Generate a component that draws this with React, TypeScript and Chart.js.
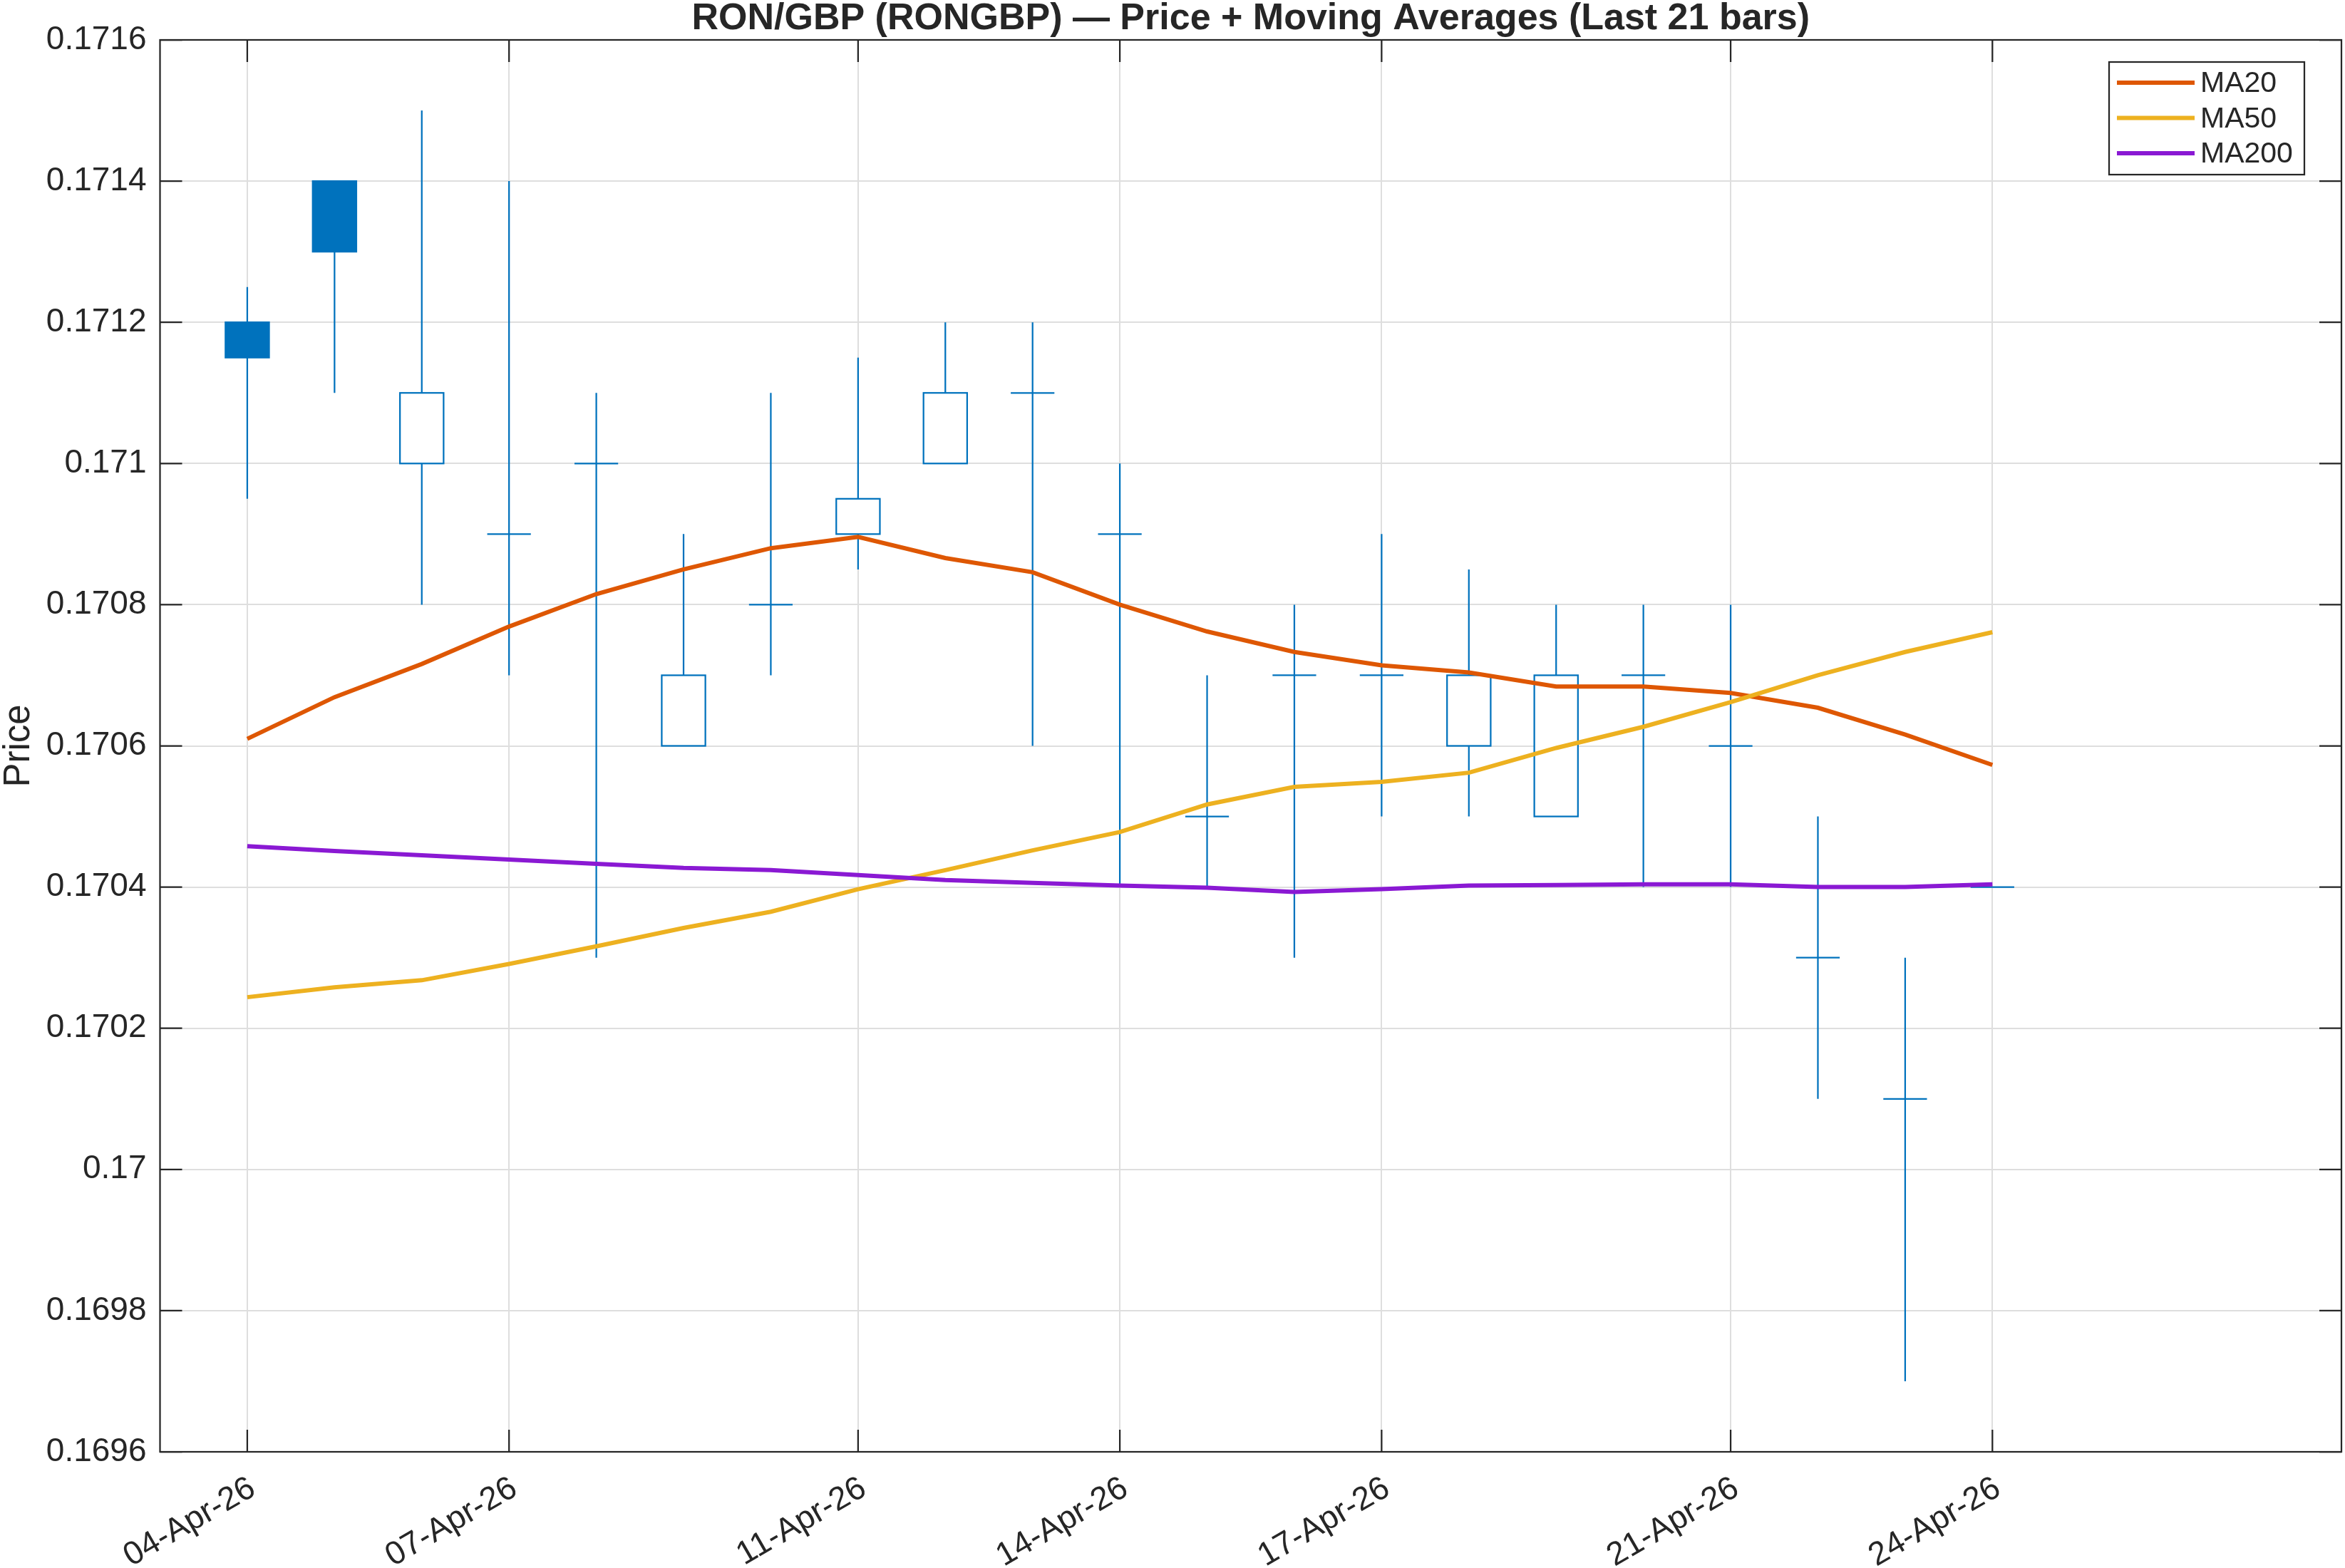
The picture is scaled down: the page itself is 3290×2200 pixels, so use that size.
import React, { useEffect, useRef } from "react";
import { Chart, registerables } from "chart.js";

Chart.register(...registerables);

// Daily bars, 04-Apr-26 .. 24-Apr-26
const dateLabels = [
  "04-Apr-26", "05-Apr-26", "06-Apr-26", "07-Apr-26", "08-Apr-26", "09-Apr-26", "10-Apr-26",
  "11-Apr-26", "12-Apr-26", "13-Apr-26", "14-Apr-26", "15-Apr-26", "16-Apr-26", "17-Apr-26",
  "18-Apr-26", "19-Apr-26", "20-Apr-26", "21-Apr-26", "22-Apr-26", "23-Apr-26", "24-Apr-26",
];

const openPrices = [
  0.17120, 0.17140, 0.17100, 0.17090, 0.17100, 0.17060, 0.17080,
  0.17090, 0.17100, 0.17110, 0.17090, 0.17050, 0.17070, 0.17070,
  0.17060, 0.17050, 0.17070, 0.17060, 0.17030, 0.17010, 0.17040,
];
const highPrices = [
  0.17125, 0.17140, 0.17150, 0.17140, 0.17110, 0.17090, 0.17110,
  0.17115, 0.17120, 0.17120, 0.17100, 0.17070, 0.17080, 0.17090,
  0.17085, 0.17080, 0.17080, 0.17080, 0.17050, 0.17030, 0.17040,
];
const lowPrices = [
  0.17095, 0.17110, 0.17080, 0.17070, 0.17030, 0.17060, 0.17070,
  0.17085, 0.17100, 0.17060, 0.17040, 0.17040, 0.17030, 0.17050,
  0.17050, 0.17050, 0.17040, 0.17040, 0.17010, 0.16970, 0.17040,
];
const closePrices = [
  0.17115, 0.17130, 0.17110, 0.17090, 0.17100, 0.17070, 0.17080,
  0.17095, 0.17110, 0.17110, 0.17090, 0.17050, 0.17070, 0.17070,
  0.17070, 0.17070, 0.17070, 0.17060, 0.17030, 0.17010, 0.17040,
];

const ma20Values = [
  0.170610, 0.170669, 0.170716, 0.170769, 0.170815, 0.170850, 0.170880,
  0.170896, 0.170866, 0.170846, 0.170800, 0.170762, 0.170733, 0.170714,
  0.170704, 0.170684, 0.170684, 0.170675, 0.170654, 0.170616, 0.170573,
];
const ma50Values = [
  0.170244, 0.170258, 0.170268, 0.170291, 0.170316, 0.170342, 0.170365,
  0.170397, 0.170424, 0.170452, 0.170478, 0.170517, 0.170542, 0.170549,
  0.170562, 0.170597, 0.170627, 0.170662, 0.170700, 0.170733, 0.170761,
];
const ma200Values = [
  0.170458, 0.170451, 0.170445, 0.170439, 0.170433, 0.170427, 0.170424,
  0.170417, 0.170410, 0.170406, 0.170402, 0.170399, 0.170393, 0.170397,
  0.170402, 0.170403, 0.170404, 0.170404, 0.170400, 0.170400, 0.170404,
];

const xTickIndices = [0, 3, 7, 10, 13, 17, 20];
const yTickValues = [
  0.1696, 0.1698, 0.17, 0.1702, 0.1704, 0.1706, 0.1708, 0.171, 0.1712, 0.1714, 0.1716,
];

const seriesNames = ["MA20", "MA50", "MA200"];
const seriesColors = ["#DE5703", "#EDB120", "#8A19D3"];

const TITLE = "RON/GBP (RONGBP) \u2014 Price + Moving Averages (Last 21 bars)";
const Y_LABEL = "Price";

const FONT = '"Liberation Sans", Arial, Helvetica, sans-serif';
const AXIS_COLOR = "#262626";
const GRID_COLOR = "#DEDEDE";
const CANDLE_COLOR = "#0072BD";
const W = 3290;
const H = 2200;
const TICK_FONT = 46;
const TITLE_FONT = 52;
const LABEL_FONT = 51;
const LEGEND_FONT = 41;
const TICK_LEN = 31;
const AXIS_LW = 2.25;
const BODY_WIDTH = 0.5; // in days

const candlePlugin = {
  id: "candles",
  beforeDatasetsDraw(chart: any) {
    const { ctx, chartArea, scales } = chart;
    const xs = scales.x;
    const ys = scales.y;
    ctx.save();
    ctx.beginPath();
    ctx.rect(chartArea.left, chartArea.top, chartArea.right - chartArea.left, chartArea.bottom - chartArea.top);
    ctx.clip();
    ctx.strokeStyle = CANDLE_COLOR;
    ctx.lineWidth = 2.25;
    for (let i = 0; i < dateLabels.length; i++) {
      const cx = xs.getPixelForValue(i);
      const half = xs.getPixelForValue(i + BODY_WIDTH / 2) - cx;
      const yo = ys.getPixelForValue(openPrices[i]);
      const yc = ys.getPixelForValue(closePrices[i]);
      const yh = ys.getPixelForValue(highPrices[i]);
      const yl = ys.getPixelForValue(lowPrices[i]);
      ctx.beginPath();
      ctx.moveTo(cx, yh);
      ctx.lineTo(cx, yl);
      ctx.stroke();
      if (openPrices[i] === closePrices[i]) {
        ctx.beginPath();
        ctx.moveTo(cx - half, yo);
        ctx.lineTo(cx + half, yo);
        ctx.stroke();
      } else {
        const top = Math.min(yo, yc);
        const h = Math.abs(yo - yc);
        ctx.fillStyle = closePrices[i] < openPrices[i] ? CANDLE_COLOR : "#FFFFFF";
        ctx.fillRect(cx - half, top, 2 * half, h);
        ctx.strokeRect(cx - half, top, 2 * half, h);
      }
    }
    ctx.restore();
  },
};

const framePlugin = {
  id: "frame",
  afterDatasetsDraw(chart: any) {
    const { ctx, chartArea, scales } = chart;
    const { left, right, top, bottom } = chartArea;
    const xs = scales.x;
    const ys = scales.y;
    ctx.save();
    ctx.strokeStyle = AXIS_COLOR;
    ctx.lineWidth = AXIS_LW;
    ctx.strokeRect(left, top, right - left, bottom - top);

    // inward tick marks on all four sides
    ctx.beginPath();
    for (const t of xTickIndices) {
      const px = xs.getPixelForValue(t);
      ctx.moveTo(px, bottom);
      ctx.lineTo(px, bottom - TICK_LEN);
      ctx.moveTo(px, top);
      ctx.lineTo(px, top + TICK_LEN);
    }
    for (const v of yTickValues) {
      const py = ys.getPixelForValue(v);
      ctx.moveTo(left, py);
      ctx.lineTo(left + TICK_LEN, py);
      ctx.moveTo(right, py);
      ctx.lineTo(right - TICK_LEN, py);
    }
    ctx.stroke();

    // legend box
    const lw = 274;
    const lh = 158;
    const lx = right - 52 - lw;
    const ly = top + 31;
    ctx.fillStyle = "#FFFFFF";
    ctx.fillRect(lx, ly, lw, lh);
    ctx.strokeRect(lx, ly, lw, lh);
    ctx.font = `${LEGEND_FONT}px ${FONT}`;
    ctx.textBaseline = "middle";
    ctx.textAlign = "left";
    for (let k = 0; k < seriesNames.length; k++) {
      const ry = ly + 29 + k * 49.5;
      ctx.strokeStyle = seriesColors[k];
      ctx.lineWidth = 6;
      ctx.beginPath();
      ctx.moveTo(lx + 11, ry);
      ctx.lineTo(lx + 120, ry);
      ctx.stroke();
      ctx.fillStyle = AXIS_COLOR;
      ctx.fillText(seriesNames[k], lx + 128, ry + 2);
    }
    ctx.restore();
  },
  afterDraw(chart: any) {
    const { ctx, chartArea } = chart;
    ctx.save();
    ctx.fillStyle = AXIS_COLOR;
    ctx.font = `bold ${TITLE_FONT}px ${FONT}`;
    ctx.textAlign = "center";
    ctx.textBaseline = "alphabetic";
    ctx.fillText(TITLE, (chartArea.left + chartArea.right) / 2, 41);

    ctx.font = `${LABEL_FONT}px ${FONT}`;
    ctx.translate(41, (chartArea.top + chartArea.bottom) / 2);
    ctx.rotate(-Math.PI / 2);
    ctx.fillText(Y_LABEL, 0, 0);
    ctx.restore();
  },
};

export default function App() {
  const canvasRef = useRef<HTMLCanvasElement | null>(null);

  useEffect(() => {
    const canvas = canvasRef.current;
    if (!canvas) return;
    const series = [ma20Values, ma50Values, ma200Values];
    const chart = new Chart(canvas, {
      type: "line",
      data: {
        datasets: series.map((vals, k) => ({
          label: seriesNames[k],
          data: vals.map((v, i) => ({ x: i, y: v })),
          borderColor: seriesColors[k],
          backgroundColor: seriesColors[k],
          borderWidth: 6,
          pointRadius: 0,
          tension: 0,
          fill: false,
          order: 2 - k,
        })),
      },
      options: {
        responsive: false,
        animation: false,
        devicePixelRatio: 1,
        events: [],
        layout: { padding: { top: 56, right: 5, left: 0, bottom: 0 } },
        plugins: {
          legend: { display: false },
          title: { display: false },
          tooltip: { enabled: false },
        },
        scales: {
          x: {
            type: "linear",
            min: -1,
            max: 24,
            afterBuildTicks(scale: any) {
              scale.ticks = xTickIndices.map((v) => ({ value: v }));
            },
            afterFit(scale: any) {
              scale.height = H - 2037;
            },
            grid: { color: GRID_COLOR, lineWidth: 2, drawTicks: false },
            border: { display: false },
            ticks: {
              autoSkip: false,
              minRotation: 30,
              maxRotation: 30,
              padding: 24,
              labelOffset: 8,
              color: AXIS_COLOR,
              font: { family: FONT, size: TICK_FONT },
              callback: (v: any) => dateLabels[Number(v)] ?? "",
            },
          },
          y: {
            type: "linear",
            min: 0.1696,
            max: 0.1716,
            afterBuildTicks(scale: any) {
              scale.ticks = yTickValues.map((v) => ({ value: v }));
            },
            afterFit(scale: any) {
              scale.width = 224.5;
            },
            grid: { color: GRID_COLOR, lineWidth: 2, drawTicks: false },
            border: { display: false },
            ticks: {
              padding: 19,
              color: AXIS_COLOR,
              font: { family: FONT, size: TICK_FONT },
              callback: (v: any) => String(parseFloat(Number(v).toFixed(4))),
            },
          },
        },
      },
      plugins: [candlePlugin, framePlugin],
    });
    return () => chart.destroy();
  }, []);

  return (
    <div style={{ position: "absolute", left: 0, top: 0, width: W, height: H, background: "#FFFFFF" }}>
      <canvas ref={canvasRef} width={W} height={H} style={{ display: "block", width: W, height: H }} />
    </div>
  );
}
